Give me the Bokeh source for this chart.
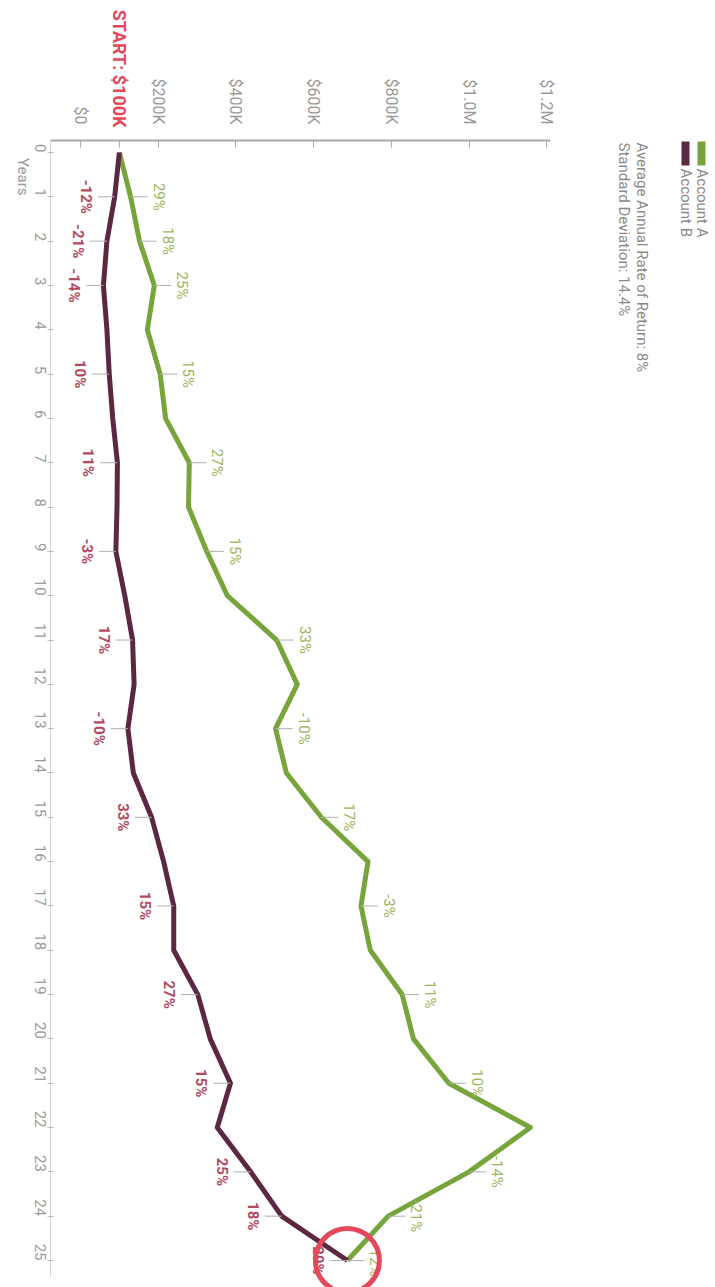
import math
from bokeh.plotting import figure
from bokeh.models import Range1d, FixedTicker, Label, LinearAxis
from bokeh.core.properties import value
from bokeh.embed import file_html
from bokeh.resources import INLINE

# ---------------- data (values in $K) ----------------
years = list(range(26))
account_a = [100, 129, 152, 190, 172, 205, 219, 280, 278, 325, 378, 505, 558,
             502, 530, 620, 740, 722, 746, 828, 857, 948, 1158, 1000, 792, 687]
account_b = [100, 88, 68, 59, 68, 74, 83, 95, 94, 91, 114, 134, 138,
             122, 136, 183, 214, 240, 240, 302, 334, 386, 352, 438, 518, 687]
label_years = [1, 2, 3, 5, 7, 9, 11, 13, 15, 17, 19, 21, 23, 24, 25]
a_returns = ["29%", "18%", "25%", "15%", "27%", "15%", "33%", "-10%", "17%",
             "-3%", "11%", "10%", "-14%", "-21%", "-12%"]
b_returns = ["-12%", "-21%", "-14%", "10%", "11%", "-3%", "17%", "-10%", "33%",
             "15%", "27%", "15%", "25%", "18%", "29%"]
dollar_ticks = [0, 100, 200, 400, 600, 800, 1000, 1200]
dollar_labels = ["$0", "", "$200K", "$400K", "$600K", "$800K", "$1.0M", "$1.2M"]
start_value = 100
start_text = "START: $100K"
series_names = ["Account A", "Account B"]
stats_text = ["Average Annual Rate of Return: 8%", "Standard Deviation: 14.4%"]
x_title = "Years"
x_title_pos = 0.97   # where the "Years" title ends along the year axis

# ---------------- layout helpers ----------------
W, H = 715, 1287
LEFT, TOP = 50, 140
X0_PX, PX_PER_K = 80.0, 0.3885      # screen x of $0, pixels per $1K
Y0_PX, PX_PER_YR = 152.0, 44.32      # screen y of year 0, pixels per year


def dx(sx):
    return (sx - X0_PX) / PX_PER_K


def dy(sy):
    return (sy - Y0_PX) / PX_PER_YR


GREEN = "#77a53b"
MAROON = "#5c2841"
GREEN_TXT = "#9db55c"
MAROON_TXT = "#b44a61"
RED = "#e4485b"
GRAY = "#9a9a9a"
FONT = "Roboto"
DOWN = -math.pi / 2   # text reading top-to-bottom

p = figure(width=W, height=H, output_backend="svg", toolbar_location=None,
           x_axis_location="above",
           x_range=Range1d(dx(LEFT), dx(W)),
           y_range=Range1d(dy(H), dy(TOP)),
           min_border_left=LEFT, min_border_right=0,
           min_border_top=TOP, min_border_bottom=0)
p.outline_line_color = None
p.grid.grid_line_color = None
p.background_fill_color = "white"

# top (dollar) axis
xa = p.xaxis[0]
xa.ticker = FixedTicker(ticks=dollar_ticks)
xa.major_label_overrides = {t: l for t, l in zip(dollar_ticks, dollar_labels)}
xa.major_label_orientation = DOWN
xa.bounds = (dx(LEFT), dx(550))
xa.axis_line_color = "#a8a8a8"
xa.axis_line_width = 2
xa.major_tick_line_color = "#a8a8a8"
xa.major_tick_in = 7
xa.major_tick_out = 0
xa.minor_tick_line_color = None
xa.major_label_standoff = 16
xa.major_label_text_font = FONT
xa.major_label_text_font_size = "16px"
xa.major_label_text_color = GRAY

# START marker text: an extra line-less axis with one labelled tick at $100K
start_axis = LinearAxis(ticker=FixedTicker(ticks=[start_value]),
                        major_label_overrides={start_value: start_text},
                        major_label_orientation=DOWN,
                        major_label_standoff=-52,
                        axis_line_color=None, major_tick_line_color=None,
                        minor_tick_line_color=None,
                        major_tick_in=0, major_tick_out=0,
                        major_label_text_font=FONT,
                        major_label_text_font_size="18px",
                        major_label_text_font_style="bold",
                        major_label_text_color=RED)
p.add_layout(start_axis, "above")

# left (years) axis
ya = p.yaxis[0]
ya.ticker = FixedTicker(ticks=years)
ya.major_label_orientation = DOWN
ya.bounds = (dy(TOP), dy(1276))
ya.axis_line_color = "#d8d8d8"
ya.axis_line_width = 1
ya.major_tick_line_color = "#b8b8b8"
ya.major_tick_in = 3
ya.major_tick_out = 3
ya.minor_tick_line_color = None
ya.major_label_standoff = 7
ya.major_label_text_font = FONT
ya.major_label_text_font_size = "15px"
ya.major_label_text_color = GRAY

# "Years" title: extra line-less axis with one labelled tick near the top
years_axis = LinearAxis(ticker=FixedTicker(ticks=[x_title_pos]),
                        major_label_overrides={x_title_pos: x_title},
                        major_label_orientation=DOWN,
                        major_label_standoff=4,
                        axis_line_color=None, major_tick_line_color=None,
                        minor_tick_line_color=None,
                        major_tick_in=0, major_tick_out=0,
                        major_label_text_font=FONT,
                        major_label_text_font_size="15px",
                        major_label_text_color=GRAY)
p.add_layout(years_axis, "left")

# lines
p.line(account_a, years, line_color=GREEN, line_width=5, line_join="round")
p.line(account_b, years, line_color=MAROON, line_width=5, line_join="round")

a_lab = [account_a[y] for y in label_years]
b_lab = [account_b[y] for y in label_years]

# leader dashes
p.ray(x=a_lab, y=label_years, length=17, length_units="screen", angle=0,
      line_color="#b0b0b0", line_width=1)
p.ray(x=b_lab, y=label_years, length=17, length_units="screen", angle=math.pi,
      line_color="#b0b0b0", line_width=1)

# return labels
p.text(x=a_lab, y=label_years, text=a_returns, angle=DOWN, x_offset=28,
       text_align="center", text_baseline="middle", text_font=value(FONT),
       text_font_size="15px", text_color=GREEN_TXT)
p.text(x=b_lab, y=label_years, text=b_returns, angle=DOWN, x_offset=-29,
       text_align="center", text_baseline="middle", text_font=value(FONT),
       text_font_size="15px", text_font_style="bold", text_color=MAROON_TXT)

# red circle at the end
p.scatter(x=[account_a[-1]], y=[years[-1]], marker="circle", size=64,
          fill_color=None, line_color=RED, line_width=5)

# legend
sw_x = [dx(701), dx(685)]
p.rect(x=sw_x, y=[dy(153), dy(153)], width=8, height=24,
       width_units="screen", height_units="screen",
       fill_color=[GREEN, MAROON], line_color=None)
for sx_px, name in zip([701, 685], series_names):
    p.add_layout(Label(x=dx(sx_px), y=dy(168), text=name, angle=DOWN,
                       text_align="left", text_baseline="middle",
                       text_font=FONT, text_font_size="15px", text_color="#8a8a8a"))
for sx_px, t in zip([641, 623], stats_text):
    p.add_layout(Label(x=dx(sx_px), y=dy(142), text=t, angle=DOWN,
                       text_align="left", text_baseline="middle",
                       text_font=FONT, text_font_size="15px", text_color="#8a8a8a"))

open("out.html", "w").write(file_html(p, INLINE))
